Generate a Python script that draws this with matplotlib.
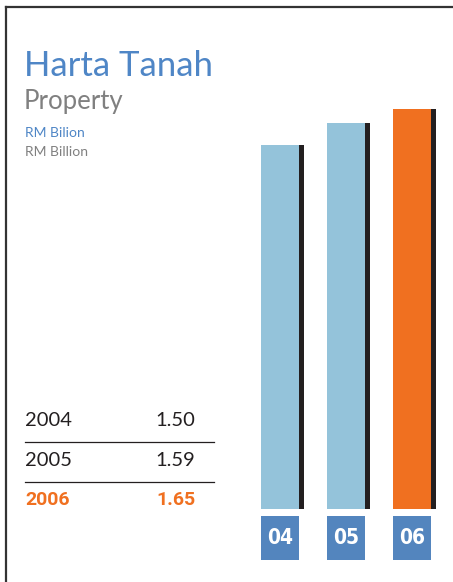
import matplotlib.pyplot as plt
from matplotlib.lines import Line2D

# Data
years = ['2004', '2005', '2006']
short_labels = ['04', '05', '06']
values = [1.50, 1.59, 1.65]
value_labels = ['1.50', '1.59', '1.65']

W, H = 453, 582
light_blue = '#94C3DA'
orange = '#F07020'
box_blue = '#5385BE'
title_blue = '#4F86C6'
grey = '#808080'
dark = '#231F20'

plt.rcParams['font.family'] = ['Lato', 'DejaVu Sans']

fig = plt.figure(figsize=(W / 100, H / 100), dpi=100)

def fx(px):
    return px / W

def fy(py):
    return 1 - py / H

# frame (top and left only)
fig.add_artist(Line2D([fx(6), fx(W)], [fy(7), fy(7)], color='#333333', lw=1.6))
fig.add_artist(Line2D([fx(6), fx(6)], [fy(7), fy(H)], color='#333333', lw=1.6))

# titles
fig.text(fx(24), fy(66), 'Harta Tanah', color=title_blue, fontsize=25, va='center', ha='left')
fig.text(fx(24), fy(101), 'Property', color=grey, fontsize=18.5, va='center', ha='left')
fig.text(fx(25), fy(133), 'RM Bilion', color=title_blue, fontsize=10, va='center', ha='left')
fig.text(fx(25), fy(152), 'RM Billion', color=grey, fontsize=10, va='center', ha='left')

# table on the left
row_y = [421, 461, 500]
for i, (yr, v) in enumerate(zip(years, value_labels)):
    last = i == len(years) - 1
    if last:
        kw = dict(color=orange, fontsize=14, fontweight='bold', family='Roboto')
    else:
        kw = dict(color=dark, fontsize=14.5)
    fig.text(fx(25), fy(row_y[i]), yr, va='center', ha='left', **kw)
    fig.text(fx(195), fy(row_y[i]), v, va='center', ha='right', **kw)
for ly in [442, 482]:
    fig.add_artist(Line2D([fx(25), fx(214)], [fy(ly), fy(ly)], color=dark, lw=0.9))

# bar chart
ax_left, ax_right = 250, W
ax_top, ax_bot = 100, 560
ax = fig.add_axes([fx(ax_left), fy(ax_bot), fx(ax_right - ax_left), (ax_bot - ax_top) / H])
px_per_unit = 242.6
base_px = 509
ax.set_ylim(-(ax_bot - base_px) / px_per_unit, (base_px - ax_top) / px_per_unit)
step = 66.0
ax.set_xlim(-(261 - ax_left) / step, (ax_right - 261) / step)

bar_w = 38 / step
shadow_w = 5 / step
xs = list(range(len(values)))
colors = [light_blue, light_blue, orange]
ax.bar(xs, values, width=bar_w, align='edge', color=colors, linewidth=0)
ax.bar([x + bar_w for x in xs], values, width=shadow_w, align='edge', color=dark, linewidth=0)

box_top = -(516 - base_px) / px_per_unit
box_h = (560 - 516) / px_per_unit
ax.bar(xs, [box_h] * len(xs), bottom=box_top - box_h, width=bar_w, align='edge', color=box_blue, linewidth=0)
for x, lab in zip(xs, short_labels):
    ax.text(x + bar_w / 2, box_top - box_h / 2, lab, color='white', fontsize=15, fontweight='bold',
            family='DejaVu Sans', fontstretch='condensed', ha='center', va='center')

ax.axis('off')

fig.savefig('out.png', dpi=100)
